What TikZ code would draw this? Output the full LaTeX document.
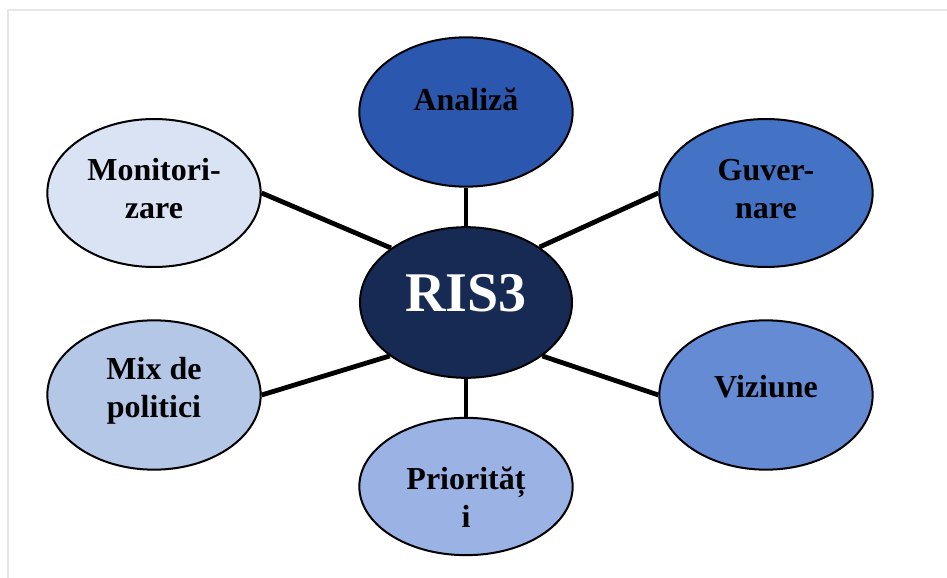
\documentclass[tikz,border=0pt]{standalone}
\usepackage{fontspec}
\setmainfont{Liberation Serif}
\usepackage{xcolor}
\usepackage{tikz}
\usetikzlibrary{shapes.geometric}

\definecolor{risblue}{HTML}{162A53}
\definecolor{anablue}{HTML}{2C57AF}
\definecolor{guvblue}{HTML}{4472C4}
\definecolor{vizblue}{HTML}{658BD5}
\definecolor{priblue}{HTML}{9AB3E4}
\definecolor{mixblue}{HTML}{B4C7E7}
\definecolor{monblue}{HTML}{DAE3F3}
\definecolor{framegray}{HTML}{E6E6E6}

\tikzset{
  bubble/.style={ellipse,draw=black,line width=1.5pt,minimum width=160pt,minimum height=111pt,inner sep=0pt},
  bubtext/.style={font=\bfseries\fontsize{24}{28.5}\selectfont,align=center,inner sep=0pt},
  spoke/.style={line width=3.6pt,black}
}

\begin{document}
\begin{tikzpicture}[x=0.75pt,y=-0.75pt]
  \useasboundingbox (0,0) rectangle (947,578);
  % page frame
  \draw[framegray,line width=1.5pt] (8,578) -- (8,10) -- (947,10);
  % centre and the six bubbles
  \node[bubble,fill=risblue,minimum width=159pt,minimum height=113pt] (ris) at (466,302.5) {};
  \node[bubble,fill=anablue,minimum height=112pt] (ana) at (466,112) {};
  \node[bubble,fill=guvblue] (guv) at (766,193) {};
  \node[bubble,fill=vizblue,minimum height=112pt] (viz) at (766,395) {};
  \node[bubble,fill=priblue,minimum height=103pt] (pri) at (466,486.5) {};
  \node[bubble,fill=mixblue,minimum height=112pt] (mix) at (154,395) {};
  \node[bubble,fill=monblue] (mon) at (154,193) {};
  % spokes
  \draw[spoke] (ana.south) -- (ris.north);
  \draw[spoke] (ris.south) -- (pri.north);
  \draw[spoke] (ris.144) -- (mon.east);
  \draw[spoke] (ris.37) -- (guv.west);
  \draw[spoke] (ris.325) -- (viz.west);
  \draw[spoke] (ris.215) -- (mix.east);
  % labels
  \node[bubtext,text=white,font=\bfseries\fontsize{42}{48}\selectfont] (ris-t) at ([yshift=7pt]ris.center) {RIS3};
  \node[bubtext] (ana-t) at ([yshift=9.5pt]ana.center) {Analiză};
  \node[bubtext] (guv-t) at ([yshift=3pt]guv.center) {Guver-\\nare};
  \node[bubtext] (viz-t) at ([yshift=6pt]viz.center) {Viziune};
  \node[bubtext] (pri-t) at ([yshift=-8pt]pri.center) {Priorităț\\i};
  \node[bubtext] (mix-t) at ([yshift=3pt]mix.center) {Mix de\\politici};
  \node[bubtext] (mon-t) at ([yshift=3pt]mon.center) {Monitori-\\zare};
\end{tikzpicture}
\end{document}
